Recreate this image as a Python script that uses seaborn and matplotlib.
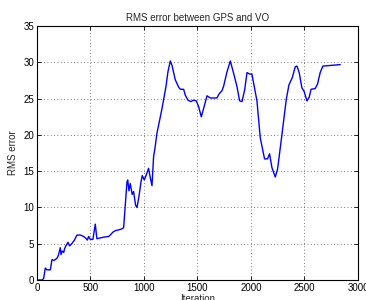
import matplotlib
matplotlib.use("Agg")
import matplotlib.pyplot as plt
import seaborn as sns
import pandas as pd

iteration = [0, 47, 62, 78, 94, 125, 140, 160, 187, 200, 218, 225, 235, 250, 258, 270, 290, 305, 325,
             350, 374, 405, 436, 461, 470, 483, 498, 523, 545, 560, 592, 620, 670, 685, 710, 732, 760,
             785, 810, 841, 848, 860, 872, 890, 903, 922, 935, 953, 972, 984, 1003, 1022, 1043, 1058,
             1075, 1090, 1103, 1121, 1168, 1206, 1224, 1246, 1262, 1293, 1324, 1340, 1371, 1386, 1411,
             1439, 1464, 1489, 1511, 1536, 1564, 1589, 1620, 1651, 1682, 1704, 1729, 1744, 1776, 1807,
             1838, 1869, 1894, 1916, 1941, 1963, 1988, 2009, 2056, 2087, 2127, 2155, 2174, 2196, 2227,
             2249, 2290, 2330, 2355, 2386, 2414, 2430, 2451, 2476, 2497, 2523, 2544, 2562, 2600, 2622,
             2647, 2672, 2834]
rms_error = [0.0, 0.0, 0.2, 1.65, 1.4, 1.4, 2.8, 2.7, 3.0, 3.4, 4.45, 3.5, 4.0, 3.8, 4.3, 4.7, 5.2, 4.7, 5.0,
             5.5, 6.2, 6.2, 6.0, 5.7, 5.5, 6.0, 5.6, 5.6, 7.7, 5.7, 5.8, 5.9, 6.0, 6.2, 6.6, 6.8, 6.9,
             7.0, 7.2, 13.5, 13.8, 12.3, 13.3, 11.8, 12.2, 10.3, 10.0, 11.5, 13.5, 14.4, 13.8, 14.5, 15.4,
             14.2, 13.0, 17.0, 18.2, 20.2, 23.6, 26.7, 28.7, 30.2, 29.6, 27.6, 26.6, 26.3, 26.3, 25.5, 24.8,
             24.6, 24.8, 24.7, 23.9, 22.5, 24.0, 25.4, 25.1, 25.1, 25.1, 25.7, 26.1, 26.7, 28.7, 30.2,
             28.5, 26.7, 24.7, 24.6, 26.2, 28.6, 28.4, 28.4, 24.7, 19.6, 16.7, 16.7, 17.4, 15.5, 14.2,
             15.3, 20.1, 24.9, 26.9, 27.9, 29.4, 29.5, 28.6, 26.5, 26.0, 24.7, 25.2, 26.3, 26.4, 27.0,
             28.6, 29.5, 29.7]

x_ticks = [0, 500, 1000, 1500, 2000, 2500, 3000]
y_ticks = [0, 5, 10, 15, 20, 25, 30, 35]

df = pd.DataFrame({"Iteration": iteration, "RMS error": rms_error})

sns.set_theme(style="white")
plt.rcParams["font.family"] = ["Liberation Sans", "DejaVu Sans"]

fig = plt.figure(figsize=(3.66, 3.0), dpi=100)
ax = fig.add_axes([0.101, 0.0667, 0.877, 0.846])
sns.lineplot(data=df, x="Iteration", y="RMS error", ax=ax, color="#0000ff", linewidth=1.0,
             estimator=None, sort=False)
ax.set_xlim(0, 3000)
ax.set_ylim(0, 35)
ax.set_xticks(x_ticks)
ax.set_yticks(y_ticks)
ax.grid(True, linestyle=(0, (1, 3)), color="#555555", linewidth=0.6)
for s in ax.spines.values():
    s.set_visible(True)
    s.set_color("black")
    s.set_linewidth(0.8)
ax.tick_params(direction="in", length=3, width=0.6, labelsize=7, pad=2, colors="black",
               top=True, right=True, bottom=True, left=True)
ax.set_xlabel("Iteration", fontsize=7, labelpad=1)
ax.set_ylabel("RMS error", fontsize=7, labelpad=4)
ax.set_title("RMS error between GPS and VO", fontsize=7, pad=4)
fig.savefig("out.png", dpi=100, facecolor="white")
